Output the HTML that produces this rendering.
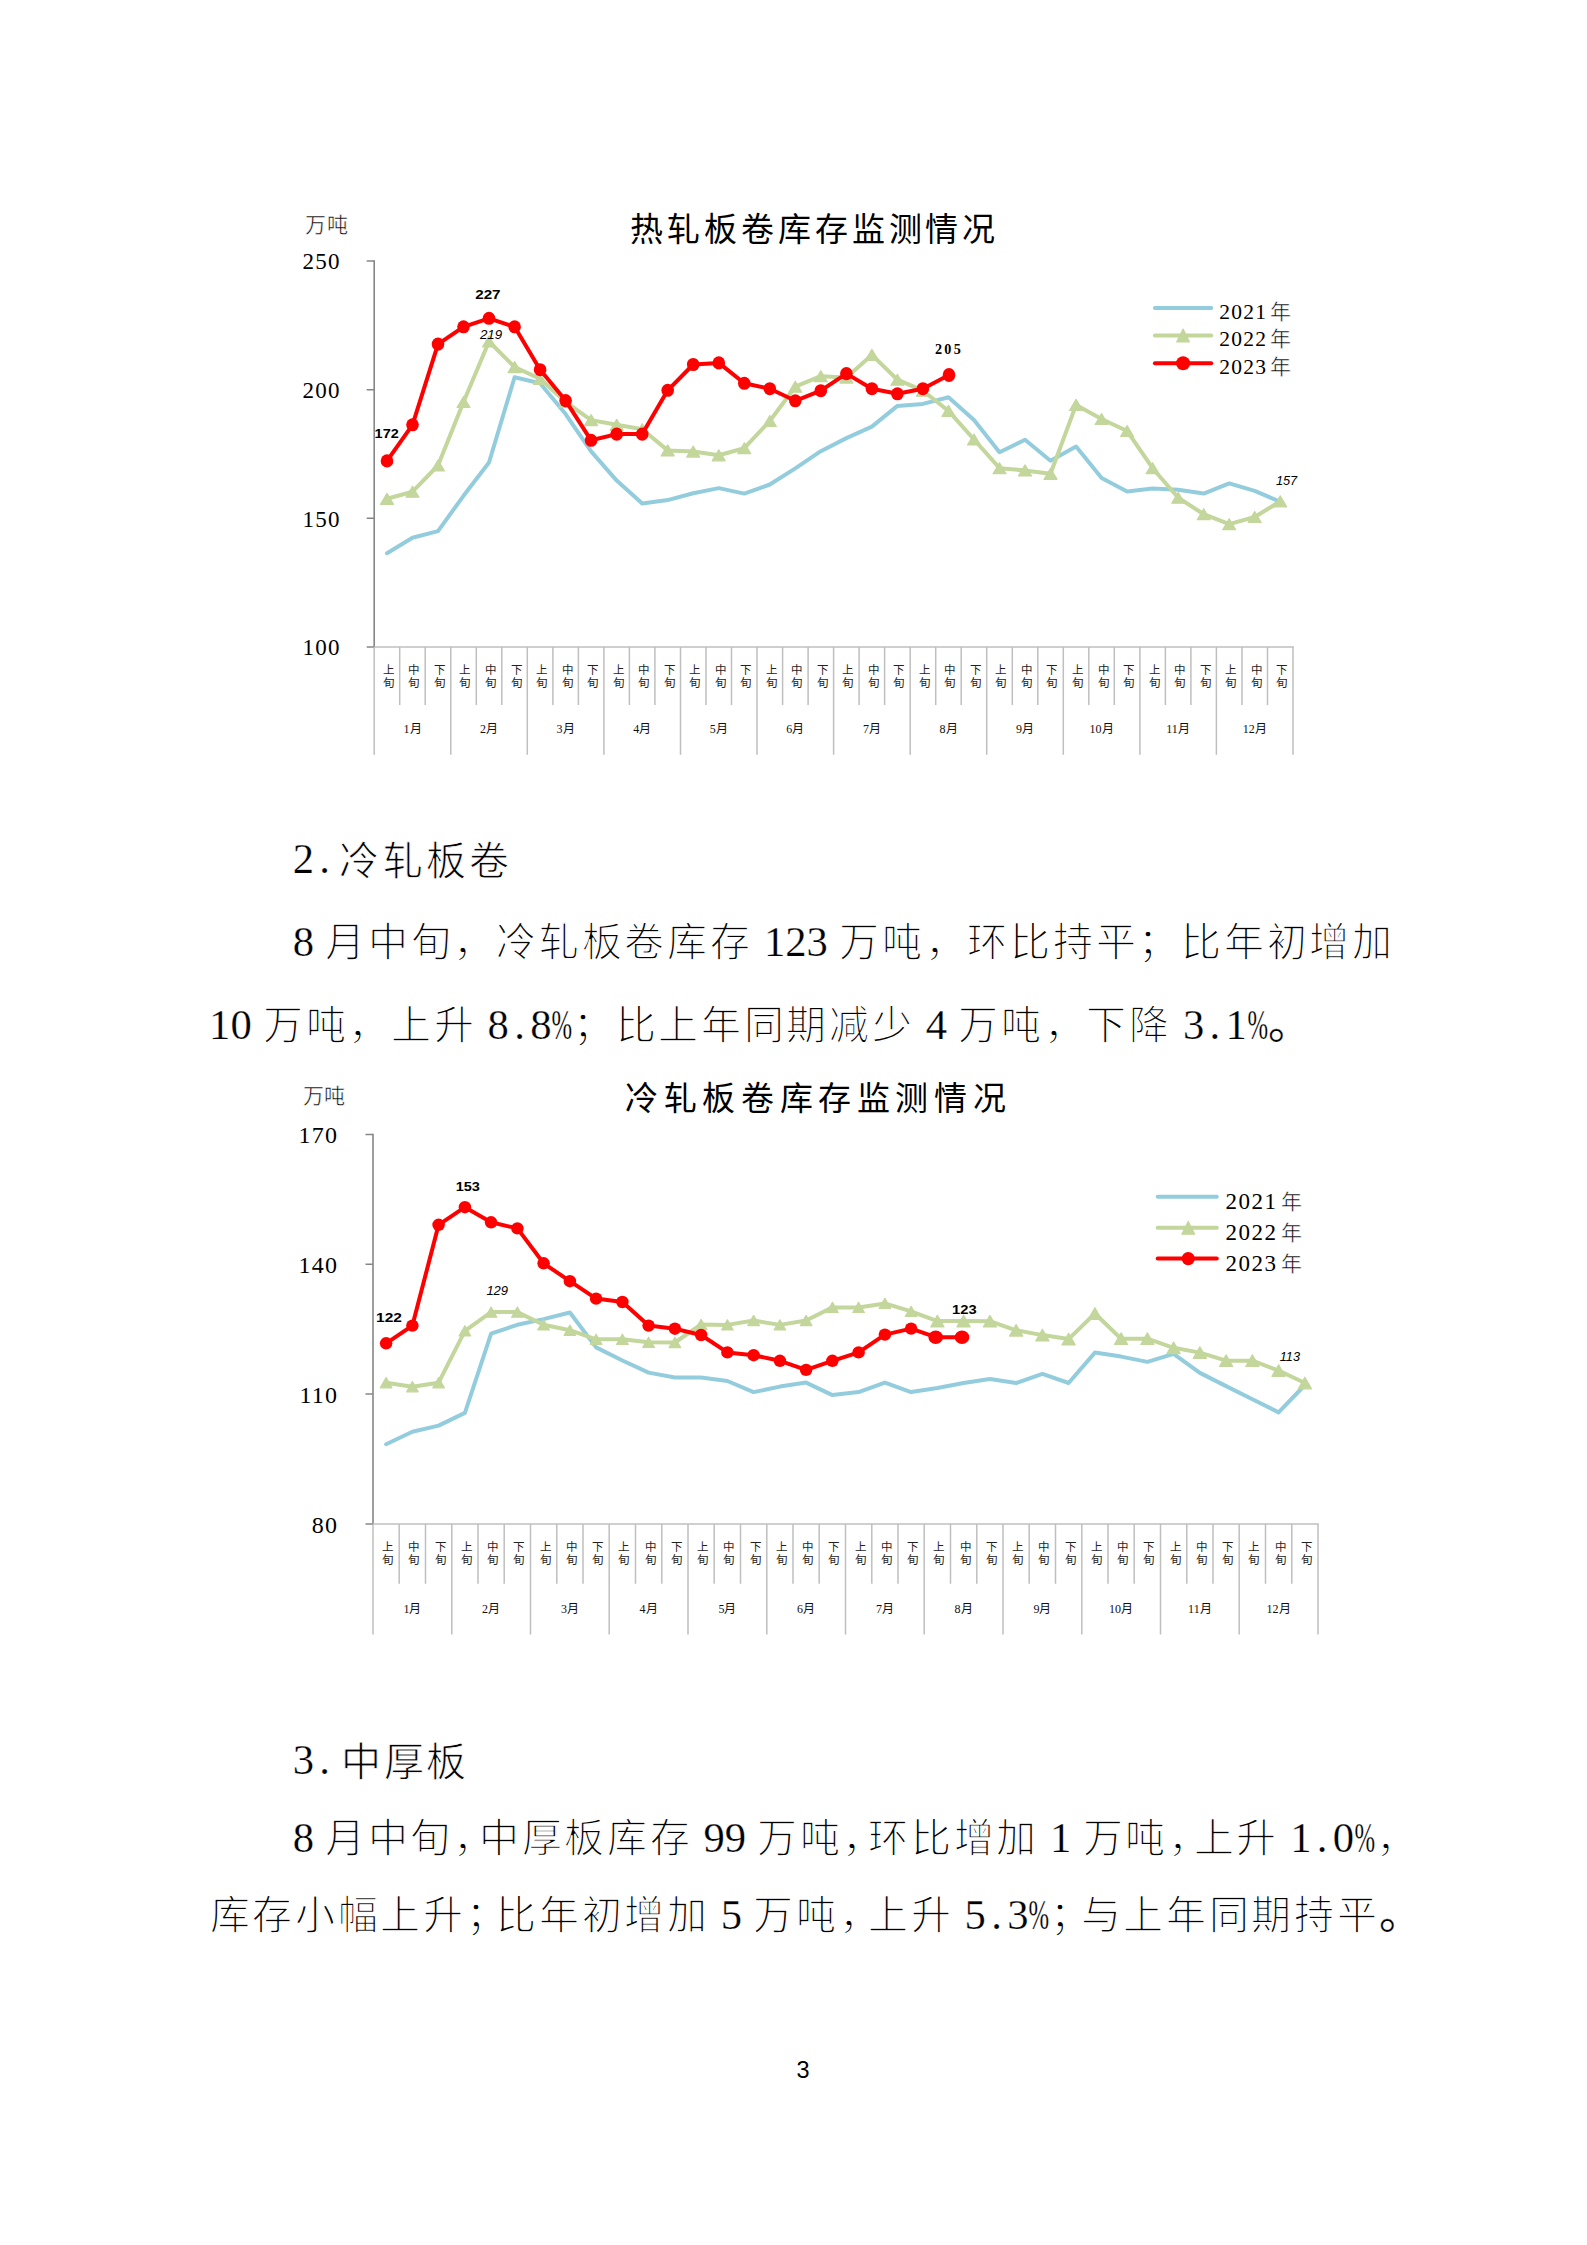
<!DOCTYPE html>
<html lang="zh-CN">
<head>
<meta charset="utf-8">
<title>库存监测情况</title>
<style>
html,body{margin:0;padding:0;background:#fff}
body{width:1587px;height:2245px;position:relative;overflow:hidden;font-family:"Liberation Serif",serif;color:#000}
.ser{font-family:"Liberation Serif",serif}
.san{font-family:"Liberation Sans",sans-serif}
.t{position:absolute;white-space:nowrap;font-family:"Liberation Sans",sans-serif;font-size:40.0px;word-spacing:-2.67px;line-height:60px;height:60px;color:#000;font-weight:normal;-webkit-text-stroke:1.3px #fff}
.l{font-family:"Liberation Serif",serif;-webkit-text-stroke:0.25px #fff;letter-spacing:0;font-size:42.67px}
.h{display:inline-block;width:0.5em;text-align:center}
.h b{display:inline-block;font-weight:normal;width:.833em;margin-left:-.1667em;transform:scaleX(.58)}
.p{margin-right:-0.3em}
.k{-webkit-text-stroke:0.9px #fff}
.pg{position:absolute;font-family:"Liberation Sans",sans-serif;font-size:23.5px;line-height:30px;text-align:center;color:#000}
</style>
</head>
<body>
<svg width="1587" height="2245" viewBox="0 0 1587 2245" style="position:absolute;left:0;top:0">
<path d="M374.2 260.2V647.8" stroke="#868686" stroke-width="1.6" fill="none"/>
<path d="M366.7 261H374.2M366.7 389.7H374.2M366.7 518.3H374.2M366.7 647H374.2" stroke="#868686" stroke-width="1.5" fill="none"/>
<path d="M374.2 647H1293.8" stroke="#BFBFBF" stroke-width="1.6" fill="none"/>
<path d="M374.2 647V754.8M399.7 647V705M425.2 647V705M450.8 647V754.8M476.3 647V705M501.8 647V705M527.3 647V754.8M552.9 647V705M578.4 647V705M603.9 647V754.8M629.4 647V705M654.9 647V705M680.5 647V754.8M706 647V705M731.5 647V705M757 647V754.8M782.6 647V705M808.1 647V705M833.6 647V754.8M859.1 647V705M884.6 647V705M910.2 647V754.8M935.7 647V705M961.2 647V705M986.7 647V754.8M1012.3 647V705M1037.8 647V705M1063.3 647V754.8M1088.8 647V705M1114.3 647V705M1139.9 647V754.8M1165.4 647V705M1190.9 647V705M1216.4 647V754.8M1242 647V705M1267.5 647V705M1293 647V754.8" stroke="#BFBFBF" stroke-width="1.5" fill="none"/>
<text x="340.6" y="269.3" text-anchor="end" class="ser" font-size="23" letter-spacing="1.2">250</text>
<text x="340.6" y="398" text-anchor="end" class="ser" font-size="23" letter-spacing="1.2">200</text>
<text x="340.6" y="526.6" text-anchor="end" class="ser" font-size="23" letter-spacing="1.2">150</text>
<text x="340.6" y="655.3" text-anchor="end" class="ser" font-size="23" letter-spacing="1.2">100</text>
<text x="305" y="231.5" class="ser" font-size="21" letter-spacing="0.8" stroke="#fff" stroke-width="0.5">万吨</text>
<text x="630.3" y="241" class="ser" font-size="33" letter-spacing="3.9">热轧板卷库存监测情况</text>
<g class="ser" font-size="11.5" text-anchor="middle" fill="#222"><text x="388.4" y="673.5">上</text><text x="388.4" y="686.5">旬</text><text x="413.9" y="673.5">中</text><text x="413.9" y="686.5">旬</text><text x="439.4" y="673.5">下</text><text x="439.4" y="686.5">旬</text><text x="464.9" y="673.5">上</text><text x="464.9" y="686.5">旬</text><text x="490.4" y="673.5">中</text><text x="490.4" y="686.5">旬</text><text x="516" y="673.5">下</text><text x="516" y="686.5">旬</text><text x="541.5" y="673.5">上</text><text x="541.5" y="686.5">旬</text><text x="567" y="673.5">中</text><text x="567" y="686.5">旬</text><text x="592.5" y="673.5">下</text><text x="592.5" y="686.5">旬</text><text x="618.1" y="673.5">上</text><text x="618.1" y="686.5">旬</text><text x="643.6" y="673.5">中</text><text x="643.6" y="686.5">旬</text><text x="669.1" y="673.5">下</text><text x="669.1" y="686.5">旬</text><text x="694.6" y="673.5">上</text><text x="694.6" y="686.5">旬</text><text x="720.1" y="673.5">中</text><text x="720.1" y="686.5">旬</text><text x="745.7" y="673.5">下</text><text x="745.7" y="686.5">旬</text><text x="771.2" y="673.5">上</text><text x="771.2" y="686.5">旬</text><text x="796.7" y="673.5">中</text><text x="796.7" y="686.5">旬</text><text x="822.2" y="673.5">下</text><text x="822.2" y="686.5">旬</text><text x="847.8" y="673.5">上</text><text x="847.8" y="686.5">旬</text><text x="873.3" y="673.5">中</text><text x="873.3" y="686.5">旬</text><text x="898.8" y="673.5">下</text><text x="898.8" y="686.5">旬</text><text x="924.3" y="673.5">上</text><text x="924.3" y="686.5">旬</text><text x="949.9" y="673.5">中</text><text x="949.9" y="686.5">旬</text><text x="975.4" y="673.5">下</text><text x="975.4" y="686.5">旬</text><text x="1000.9" y="673.5">上</text><text x="1000.9" y="686.5">旬</text><text x="1026.4" y="673.5">中</text><text x="1026.4" y="686.5">旬</text><text x="1051.9" y="673.5">下</text><text x="1051.9" y="686.5">旬</text><text x="1077.5" y="673.5">上</text><text x="1077.5" y="686.5">旬</text><text x="1103" y="673.5">中</text><text x="1103" y="686.5">旬</text><text x="1128.5" y="673.5">下</text><text x="1128.5" y="686.5">旬</text><text x="1154" y="673.5">上</text><text x="1154" y="686.5">旬</text><text x="1179.6" y="673.5">中</text><text x="1179.6" y="686.5">旬</text><text x="1205.1" y="673.5">下</text><text x="1205.1" y="686.5">旬</text><text x="1230.6" y="673.5">上</text><text x="1230.6" y="686.5">旬</text><text x="1256.1" y="673.5">中</text><text x="1256.1" y="686.5">旬</text><text x="1281.6" y="673.5">下</text><text x="1281.6" y="686.5">旬</text></g>
<g class="ser" font-size="12" text-anchor="middle" fill="#111"><text x="412.5" y="732.5">1月</text><text x="489" y="732.5">2月</text><text x="565.6" y="732.5">3月</text><text x="642.2" y="732.5">4月</text><text x="718.8" y="732.5">5月</text><text x="795.3" y="732.5">6月</text><text x="871.9" y="732.5">7月</text><text x="948.5" y="732.5">8月</text><text x="1025" y="732.5">9月</text><text x="1101.6" y="732.5">10月</text><text x="1178.1" y="732.5">11月</text><text x="1254.7" y="732.5">12月</text></g>
<polyline points="387,553.2 412.5,537.7 438,531.1 463.5,495.8 489,462.5 514.6,377.2 540.1,383.2 565.6,414.1 591.1,451.4 616.7,480.6 642.2,503.4 667.7,500.1 693.2,493.2 718.8,488.1 744.3,493.6 769.8,484.5 795.3,468.4 820.8,451.2 846.4,438.1 871.9,426.6 897.4,405.9 922.9,403.9 948.5,397.2 974,420 999.5,452.3 1025,439.8 1050.5,460.7 1076.1,446.6 1101.6,477.9 1127.1,491.5 1152.6,488.6 1178.2,489.7 1203.7,493.6 1229.2,483.4 1254.7,490.9 1280.2,501.8" fill="none" stroke="#93CDDD" stroke-width="4" stroke-linejoin="round" stroke-linecap="round"/>
<polyline points="387,498.8 412.5,491.7 438,465.5 463.5,402 489,341.5 514.6,367.1 540.1,378.8 565.6,402 591.1,420.1 616.7,424.8 642.2,429.2 667.7,450.4 693.2,451.6 718.8,455.3 744.3,448.2 769.8,421 795.3,386.7 820.8,376.2 846.4,377.6 871.9,354.9 897.4,379.7 922.9,390.7 948.5,410.9 974,439.5 999.5,468.2 1025,470.4 1050.5,473.8 1076.1,404.9 1101.6,419 1127.1,431 1152.6,468.2 1178.2,497.7 1203.7,514.2 1229.2,524.2 1254.7,517 1280.2,501.3" fill="none" stroke="#C3D69B" stroke-width="4" stroke-linejoin="round" stroke-linecap="round"/>
<path d="M387 493.3L393.5 504.3H380.5ZM412.5 486.2L419 497.2H406ZM438 460L444.5 471H431.5ZM463.5 396.5L470 407.5H457ZM489 336L495.5 347H482.5ZM514.6 361.6L521.1 372.6H508.1ZM540.1 373.3L546.6 384.3H533.6ZM565.6 396.5L572.1 407.5H559.1ZM591.1 414.6L597.6 425.6H584.6ZM616.7 419.3L623.2 430.3H610.2ZM642.2 423.7L648.7 434.7H635.7ZM667.7 444.9L674.2 455.9H661.2ZM693.2 446.1L699.7 457.1H686.7ZM718.8 449.8L725.2 460.8H712.2ZM744.3 442.7L750.8 453.7H737.8ZM769.8 415.5L776.3 426.5H763.3ZM795.3 381.2L801.8 392.2H788.8ZM820.8 370.7L827.3 381.7H814.3ZM846.4 372.1L852.9 383.1H839.9ZM871.9 349.4L878.4 360.4H865.4ZM897.4 374.2L903.9 385.2H890.9ZM922.9 385.2L929.4 396.2H916.4ZM948.5 405.4L955 416.4H942ZM974 434L980.5 445H967.5ZM999.5 462.7L1006 473.7H993ZM1025 464.9L1031.5 475.9H1018.5ZM1050.5 468.3L1057 479.3H1044ZM1076.1 399.4L1082.6 410.4H1069.6ZM1101.6 413.5L1108.1 424.5H1095.1ZM1127.1 425.5L1133.6 436.5H1120.6ZM1152.6 462.7L1159.1 473.7H1146.1ZM1178.2 492.2L1184.7 503.2H1171.7ZM1203.7 508.7L1210.2 519.7H1197.2ZM1229.2 518.7L1235.7 529.7H1222.7ZM1254.7 511.5L1261.2 522.5H1248.2ZM1280.2 495.8L1286.7 506.8H1273.7Z" fill="#C3D69B" stroke="#C3D69B" stroke-width="1.2" stroke-linejoin="round"/>
<polyline points="387,460.9 412.5,424.8 438,344.1 463.5,326.8 489,318.3 514.6,326.8 540.1,369.7 565.6,400.6 591.1,440.3 616.7,434.1 642.2,434.1 667.7,390.3 693.2,364.5 718.8,362.9 744.3,383.3 769.8,388.7 795.3,400.8 820.8,390.7 846.4,373.6 871.9,388.7 897.4,393.8 922.9,388.7 949,375" fill="none" stroke="#FF0000" stroke-width="4" stroke-linejoin="round" stroke-linecap="round"/>
<g fill="#FF0000"><ellipse cx="387" cy="460.9" rx="6.3" ry="6.55"/><ellipse cx="412.5" cy="424.8" rx="6.3" ry="6.55"/><ellipse cx="438" cy="344.1" rx="6.3" ry="6.55"/><ellipse cx="463.5" cy="326.8" rx="6.3" ry="6.55"/><ellipse cx="489" cy="318.3" rx="6.3" ry="6.55"/><ellipse cx="514.6" cy="326.8" rx="6.3" ry="6.55"/><ellipse cx="540.1" cy="369.7" rx="6.3" ry="6.55"/><ellipse cx="565.6" cy="400.6" rx="6.3" ry="6.55"/><ellipse cx="591.1" cy="440.3" rx="6.3" ry="6.55"/><ellipse cx="616.7" cy="434.1" rx="6.3" ry="6.55"/><ellipse cx="642.2" cy="434.1" rx="6.3" ry="6.55"/><ellipse cx="667.7" cy="390.3" rx="6.3" ry="6.55"/><ellipse cx="693.2" cy="364.5" rx="6.3" ry="6.55"/><ellipse cx="718.8" cy="362.9" rx="6.3" ry="6.55"/><ellipse cx="744.3" cy="383.3" rx="6.3" ry="6.55"/><ellipse cx="769.8" cy="388.7" rx="6.3" ry="6.55"/><ellipse cx="795.3" cy="400.8" rx="6.3" ry="6.55"/><ellipse cx="820.8" cy="390.7" rx="6.3" ry="6.55"/><ellipse cx="846.4" cy="373.6" rx="6.3" ry="6.55"/><ellipse cx="871.9" cy="388.7" rx="6.3" ry="6.55"/><ellipse cx="897.4" cy="393.8" rx="6.3" ry="6.55"/><ellipse cx="922.9" cy="388.7" rx="6.3" ry="6.55"/><ellipse cx="949" cy="375" rx="6.3" ry="6.9"/></g>
<path d="M1154.9 307.9H1211.2" stroke="#93CDDD" stroke-width="4" stroke-linecap="round"/>
<path d="M1154.9 335.5H1211.2" stroke="#C3D69B" stroke-width="4" stroke-linecap="round"/>
<path d="M1154.9 363.2H1211.2" stroke="#FF0000" stroke-width="4" stroke-linecap="round"/>
<path d="M1183.1 329.1L1189.5 341.9H1176.7Z" fill="#C3D69B" stroke="#C3D69B" stroke-width="1.2" stroke-linejoin="round"/>
<ellipse cx="1183.1" cy="363.2" rx="7" ry="7" fill="#FF0000"/>
<text x="1219.3" y="318.7" class="ser" font-size="21.5" letter-spacing="1.2">2021<tspan font-size="21" dx="3" stroke="#fff" stroke-width="0.5">年</tspan></text>
<text x="1219.3" y="346.3" class="ser" font-size="21.5" letter-spacing="1.2">2022<tspan font-size="21" dx="3" stroke="#fff" stroke-width="0.5">年</tspan></text>
<text x="1219.3" y="374" class="ser" font-size="21.5" letter-spacing="1.2">2023<tspan font-size="21" dx="3" stroke="#fff" stroke-width="0.5">年</tspan></text>
<text x="374.6" y="437.8" class="san" font-size="12.8" font-weight="bold" textLength="24.2" lengthAdjust="spacingAndGlyphs">172</text>
<text x="475.2" y="298.7" class="san" font-size="12.8" font-weight="bold" textLength="25.4" lengthAdjust="spacingAndGlyphs">227</text>
<text x="479.9" y="339" class="san" font-size="13.5" font-style="italic" textLength="22.2" lengthAdjust="spacingAndGlyphs">219</text>
<text x="935" y="354" class="ser" font-size="14.2" font-weight="bold" textLength="25.8" lengthAdjust="spacing">205</text>
<text x="1275.9" y="485" class="san" font-size="13.5" font-style="italic" textLength="21.3" lengthAdjust="spacingAndGlyphs">157</text>
<path d="M373 1133.7V1524.8" stroke="#868686" stroke-width="1.6" fill="none"/>
<path d="M365.5 1134.4H373M365.5 1264.3H373M365.5 1394.1H373M365.5 1524H373" stroke="#868686" stroke-width="1.5" fill="none"/>
<path d="M373 1524H1318.8" stroke="#BFBFBF" stroke-width="1.6" fill="none"/>
<path d="M373 1524V1634.6M399.2 1524V1583.8M425.5 1524V1583.8M451.8 1524V1634.6M478 1524V1583.8M504.2 1524V1583.8M530.5 1524V1634.6M556.8 1524V1583.8M583 1524V1583.8M609.2 1524V1634.6M635.5 1524V1583.8M661.8 1524V1583.8M688 1524V1634.6M714.2 1524V1583.8M740.5 1524V1583.8M766.8 1524V1634.6M793 1524V1583.8M819.2 1524V1583.8M845.5 1524V1634.6M871.8 1524V1583.8M898 1524V1583.8M924.2 1524V1634.6M950.5 1524V1583.8M976.8 1524V1583.8M1003 1524V1634.6M1029.2 1524V1583.8M1055.5 1524V1583.8M1081.8 1524V1634.6M1108 1524V1583.8M1134.2 1524V1583.8M1160.5 1524V1634.6M1186.8 1524V1583.8M1213 1524V1583.8M1239.2 1524V1634.6M1265.5 1524V1583.8M1291.8 1524V1583.8M1318 1524V1634.6" stroke="#BFBFBF" stroke-width="1.5" fill="none"/>
<text x="338.2" y="1143.2" text-anchor="end" class="ser" font-size="24" letter-spacing="1.2">170</text>
<text x="338.2" y="1273.1" text-anchor="end" class="ser" font-size="24" letter-spacing="1.2">140</text>
<text x="338.2" y="1402.9" text-anchor="end" class="ser" font-size="24" letter-spacing="1.2">110</text>
<text x="338.2" y="1532.8" text-anchor="end" class="ser" font-size="24" letter-spacing="1.2">80</text>
<text x="302.7" y="1102.5" class="ser" font-size="21" letter-spacing="0.8" stroke="#fff" stroke-width="0.5">万吨</text>
<text x="625.3" y="1109.5" class="ser" font-size="33" letter-spacing="5.6">冷轧板卷库存监测情况</text>
<g class="ser" font-size="11.5" text-anchor="middle" fill="#222"><text x="387.5" y="1550.5">上</text><text x="387.5" y="1563.5">旬</text><text x="413.8" y="1550.5">中</text><text x="413.8" y="1563.5">旬</text><text x="440" y="1550.5">下</text><text x="440" y="1563.5">旬</text><text x="466.3" y="1550.5">上</text><text x="466.3" y="1563.5">旬</text><text x="492.5" y="1550.5">中</text><text x="492.5" y="1563.5">旬</text><text x="518.8" y="1550.5">下</text><text x="518.8" y="1563.5">旬</text><text x="545" y="1550.5">上</text><text x="545" y="1563.5">旬</text><text x="571.3" y="1550.5">中</text><text x="571.3" y="1563.5">旬</text><text x="597.5" y="1550.5">下</text><text x="597.5" y="1563.5">旬</text><text x="623.8" y="1550.5">上</text><text x="623.8" y="1563.5">旬</text><text x="650" y="1550.5">中</text><text x="650" y="1563.5">旬</text><text x="676.3" y="1550.5">下</text><text x="676.3" y="1563.5">旬</text><text x="702.5" y="1550.5">上</text><text x="702.5" y="1563.5">旬</text><text x="728.8" y="1550.5">中</text><text x="728.8" y="1563.5">旬</text><text x="755" y="1550.5">下</text><text x="755" y="1563.5">旬</text><text x="781.3" y="1550.5">上</text><text x="781.3" y="1563.5">旬</text><text x="807.5" y="1550.5">中</text><text x="807.5" y="1563.5">旬</text><text x="833.8" y="1550.5">下</text><text x="833.8" y="1563.5">旬</text><text x="860" y="1550.5">上</text><text x="860" y="1563.5">旬</text><text x="886.3" y="1550.5">中</text><text x="886.3" y="1563.5">旬</text><text x="912.5" y="1550.5">下</text><text x="912.5" y="1563.5">旬</text><text x="938.8" y="1550.5">上</text><text x="938.8" y="1563.5">旬</text><text x="965" y="1550.5">中</text><text x="965" y="1563.5">旬</text><text x="991.3" y="1550.5">下</text><text x="991.3" y="1563.5">旬</text><text x="1017.5" y="1550.5">上</text><text x="1017.5" y="1563.5">旬</text><text x="1043.8" y="1550.5">中</text><text x="1043.8" y="1563.5">旬</text><text x="1070" y="1550.5">下</text><text x="1070" y="1563.5">旬</text><text x="1096.3" y="1550.5">上</text><text x="1096.3" y="1563.5">旬</text><text x="1122.5" y="1550.5">中</text><text x="1122.5" y="1563.5">旬</text><text x="1148.8" y="1550.5">下</text><text x="1148.8" y="1563.5">旬</text><text x="1175" y="1550.5">上</text><text x="1175" y="1563.5">旬</text><text x="1201.3" y="1550.5">中</text><text x="1201.3" y="1563.5">旬</text><text x="1227.5" y="1550.5">下</text><text x="1227.5" y="1563.5">旬</text><text x="1253.8" y="1550.5">上</text><text x="1253.8" y="1563.5">旬</text><text x="1280" y="1550.5">中</text><text x="1280" y="1563.5">旬</text><text x="1306.3" y="1550.5">下</text><text x="1306.3" y="1563.5">旬</text></g>
<g class="ser" font-size="12" text-anchor="middle" fill="#111"><text x="412.4" y="1612.5">1月</text><text x="491.1" y="1612.5">2月</text><text x="569.9" y="1612.5">3月</text><text x="648.6" y="1612.5">4月</text><text x="727.4" y="1612.5">5月</text><text x="806.1" y="1612.5">6月</text><text x="884.9" y="1612.5">7月</text><text x="963.6" y="1612.5">8月</text><text x="1042.4" y="1612.5">9月</text><text x="1121.1" y="1612.5">10月</text><text x="1199.9" y="1612.5">11月</text><text x="1278.6" y="1612.5">12月</text></g>
<polyline points="386.1,1444.2 412.4,1431.7 438.6,1425.6 464.9,1412.9 491.1,1333.7 517.4,1324.8 543.6,1319.1 569.9,1312.5 596.1,1347.4 622.4,1360.5 648.6,1372.6 674.9,1377.5 701.1,1377.4 727.4,1381 753.6,1392.1 779.9,1386.6 806.1,1382.6 832.4,1395.1 858.6,1392.1 884.9,1382.6 911.1,1392.1 937.4,1388 963.6,1383 989.9,1378.9 1016.1,1383 1042.4,1373.9 1068.6,1383 1094.9,1352.6 1121.1,1356.6 1147.4,1361.9 1173.6,1353.8 1199.9,1372.9 1226.1,1386.1 1252.4,1399.3 1278.6,1412.4 1304.9,1385" fill="none" stroke="#93CDDD" stroke-width="4" stroke-linejoin="round" stroke-linecap="round"/>
<polyline points="386.1,1382.7 412.4,1386.7 438.6,1382.7 464.9,1330.8 491.1,1312.1 517.4,1312.1 543.6,1324.8 569.9,1330.2 596.1,1339.3 622.4,1339.3 648.6,1342.3 674.9,1342.5 701.1,1324.5 727.4,1324.9 753.6,1320.5 779.9,1324.9 806.1,1320.5 832.4,1307.4 858.6,1307.4 884.9,1303.4 911.1,1311.4 937.4,1321.1 963.6,1321.1 989.9,1321.2 1016.1,1330.3 1042.4,1335.1 1068.6,1339.1 1094.9,1313.5 1121.1,1338.7 1147.4,1338.7 1173.6,1347.8 1199.9,1352.6 1226.1,1360.7 1252.4,1360.7 1278.6,1370.5 1304.9,1383" fill="none" stroke="#C3D69B" stroke-width="4" stroke-linejoin="round" stroke-linecap="round"/>
<path d="M386.1 1377.6L391.9 1387.8H380.3ZM412.4 1381.6L418.2 1391.8H406.6ZM438.6 1377.6L444.4 1387.8H432.8ZM464.9 1325.7L470.7 1335.9H459.1ZM491.1 1307L496.9 1317.2H485.3ZM517.4 1307L523.2 1317.2H511.6ZM543.6 1319.7L549.4 1329.9H537.8ZM569.9 1325.1L575.7 1335.3H564.1ZM596.1 1334.2L601.9 1344.4H590.3ZM622.4 1334.2L628.2 1344.4H616.6ZM648.6 1337.2L654.4 1347.4H642.8ZM674.9 1337.4L680.7 1347.6H669.1ZM701.1 1319.4L706.9 1329.6H695.3ZM727.4 1319.8L733.2 1330H721.6ZM753.6 1315.4L759.4 1325.6H747.8ZM779.9 1319.8L785.7 1330H774.1ZM806.1 1315.4L811.9 1325.6H800.3ZM832.4 1302.3L838.2 1312.5H826.6ZM858.6 1302.3L864.4 1312.5H852.8ZM884.9 1298.3L890.7 1308.5H879.1ZM911.1 1306.3L916.9 1316.5H905.3ZM937.4 1315.2L944 1326.9H930.8ZM963.6 1315.2L970.2 1326.9H957ZM989.9 1315.4L996.5 1327H983.3ZM1016.1 1324.5L1022.7 1336.1H1009.5ZM1042.4 1329.2L1049 1340.9H1035.8ZM1068.6 1333.2L1075.2 1344.9H1062ZM1094.9 1307.7L1101.5 1319.3H1088.3ZM1121.1 1332.9L1127.7 1344.5H1114.5ZM1147.4 1332.9L1154 1344.5H1140.8ZM1173.6 1342L1180.2 1353.6H1167ZM1199.9 1346.8L1206.5 1358.4H1193.3ZM1226.1 1354.9L1232.7 1366.5H1219.5ZM1252.4 1354.9L1259 1366.5H1245.8ZM1278.6 1364.7L1285.2 1376.3H1272ZM1304.9 1377.2L1311.5 1388.8H1298.3Z" fill="#C3D69B" stroke="#C3D69B" stroke-width="1.2" stroke-linejoin="round"/>
<polyline points="386.1,1343.3 412.4,1325.6 438.6,1224.8 464.9,1207.2 491.1,1222.3 517.4,1228.4 543.6,1263.3 569.9,1281.2 596.1,1298.6 622.4,1302 648.6,1325.6 674.9,1328.7 701.1,1335 727.4,1352.4 753.6,1355.2 779.9,1360.8 806.1,1369.9 832.4,1360.8 858.6,1352.4 884.9,1334.6 911.1,1328.6 935.7,1337.2 962,1337.2" fill="none" stroke="#FF0000" stroke-width="4" stroke-linejoin="round" stroke-linecap="round"/>
<g fill="#FF0000"><ellipse cx="386.1" cy="1343.3" rx="6.25" ry="6.2"/><ellipse cx="412.4" cy="1325.6" rx="6.25" ry="6.2"/><ellipse cx="438.6" cy="1224.8" rx="6.25" ry="6.2"/><ellipse cx="464.9" cy="1207.2" rx="6.25" ry="6.2"/><ellipse cx="491.1" cy="1222.3" rx="6.25" ry="6.2"/><ellipse cx="517.4" cy="1228.4" rx="6.25" ry="6.2"/><ellipse cx="543.6" cy="1263.3" rx="6.25" ry="6.2"/><ellipse cx="569.9" cy="1281.2" rx="6.25" ry="6.2"/><ellipse cx="596.1" cy="1298.6" rx="6.25" ry="6.2"/><ellipse cx="622.4" cy="1302" rx="6.25" ry="6.2"/><ellipse cx="648.6" cy="1325.6" rx="6.25" ry="6.2"/><ellipse cx="674.9" cy="1328.7" rx="6.25" ry="6.2"/><ellipse cx="701.1" cy="1335" rx="6.25" ry="6.2"/><ellipse cx="727.4" cy="1352.4" rx="6.25" ry="6.2"/><ellipse cx="753.6" cy="1355.2" rx="6.25" ry="6.2"/><ellipse cx="779.9" cy="1360.8" rx="6.25" ry="6.2"/><ellipse cx="806.1" cy="1369.9" rx="6.25" ry="6.2"/><ellipse cx="832.4" cy="1360.8" rx="6.25" ry="6.2"/><ellipse cx="858.6" cy="1352.4" rx="6.25" ry="6.2"/><ellipse cx="884.9" cy="1334.6" rx="6.25" ry="6.2"/><ellipse cx="911.1" cy="1328.6" rx="6.25" ry="6.2"/><ellipse cx="935.7" cy="1337.2" rx="7.3" ry="6.8"/><ellipse cx="962" cy="1337.2" rx="7.3" ry="6.8"/></g>
<path d="M1157.7 1196.8H1216.8" stroke="#93CDDD" stroke-width="4" stroke-linecap="round"/>
<path d="M1157.7 1227.8H1216.8" stroke="#C3D69B" stroke-width="4" stroke-linecap="round"/>
<path d="M1157.7 1258.6H1216.8" stroke="#FF0000" stroke-width="4" stroke-linecap="round"/>
<path d="M1188.2 1221.4L1194.7 1234.2H1181.8Z" fill="#C3D69B" stroke="#C3D69B" stroke-width="1.2" stroke-linejoin="round"/>
<ellipse cx="1188.2" cy="1258.6" rx="6.6" ry="6.6" fill="#FF0000"/>
<text x="1225.6" y="1208.8" class="ser" font-size="23" letter-spacing="1.5">2021<tspan font-size="21" dx="3" stroke="#fff" stroke-width="0.5">年</tspan></text>
<text x="1225.6" y="1239.8" class="ser" font-size="23" letter-spacing="1.5">2022<tspan font-size="21" dx="3" stroke="#fff" stroke-width="0.5">年</tspan></text>
<text x="1225.6" y="1270.6" class="ser" font-size="23" letter-spacing="1.5">2023<tspan font-size="21" dx="3" stroke="#fff" stroke-width="0.5">年</tspan></text>
<text x="376" y="1321.6" class="san" font-size="12.8" font-weight="bold" textLength="25.9" lengthAdjust="spacingAndGlyphs">122</text>
<text x="455.7" y="1190.7" class="san" font-size="12.8" font-weight="bold" textLength="24.2" lengthAdjust="spacingAndGlyphs">153</text>
<text x="486.4" y="1294.9" class="san" font-size="13.5" font-style="italic" textLength="21.7" lengthAdjust="spacingAndGlyphs">129</text>
<text x="952" y="1314" class="san" font-size="12.8" font-weight="bold" textLength="24.6" lengthAdjust="spacingAndGlyphs">123</text>
<text x="1279.7" y="1360.7" class="san" font-size="13.5" font-style="italic" textLength="20.3" lengthAdjust="spacingAndGlyphs">113</text>
</svg>
<div class="t k" style="left:292.7px;top:829.3px;letter-spacing:3.27px;"><span class="l">2<span class="h">.</span></span><span style="margin-left:4px;position:relative;top:1.5px">冷轧板卷</span></div>
<div class="t" style="left:292.7px;top:912px;letter-spacing:2.75px;"><span class="l">8</span> 月中旬，冷轧板卷库存 <span class="l">123</span> 万吨，环比持平；比年初增加</div>
<div class="t" style="left:209.1px;top:994.7px;letter-spacing:2.71px;"><span class="l">10</span> 万吨，上升 <span class="l">8<span class="h">.</span>8<span class="h"><b>%</b></span></span>；比上年同期减少 <span class="l">4</span> 万吨，下降 <span class="l">3<span class="h">.</span>1<span class="h"><b>%</b></span></span><span class="l">。</span></div>
<div class="t k" style="left:292.7px;top:1730px;letter-spacing:2.37px;"><span class="l">3<span class="h">.</span></span><span style="margin-left:6px;position:relative;top:1.5px">中厚板</span></div>
<div class="t" style="left:292.7px;top:1807.8px;letter-spacing:2.66px;"><span class="l">8</span> 月中旬<span class="p" style="margin-right:-0.42em">，</span>中厚板库存 <span class="l">99</span> 万吨<span class="p" style="margin-right:-0.42em">，</span>环比增加 <span class="l">1</span> 万吨<span class="p" style="margin-right:-0.42em">，</span>上升 <span class="l">1<span class="h">.</span>0<span class="h"><b>%</b></span></span><span class="p" style="margin-right:-0.42em">，</span></div>
<div class="t" style="left:209.6px;top:1884.5px;letter-spacing:2.67px;">库存小幅上升<span class="p">；</span>比年初增加 <span class="l">5</span> 万吨<span class="p" style="margin-right:-0.33em">，</span>上升 <span class="l">5<span class="h">.</span>3<span class="h"><b>%</b></span></span><span class="p">；</span>与上年同期持平<span class="l">。</span></div>
<div class="pg" style="left:783px;top:2054.5px;width:40px">3</div>
</body>
</html>
